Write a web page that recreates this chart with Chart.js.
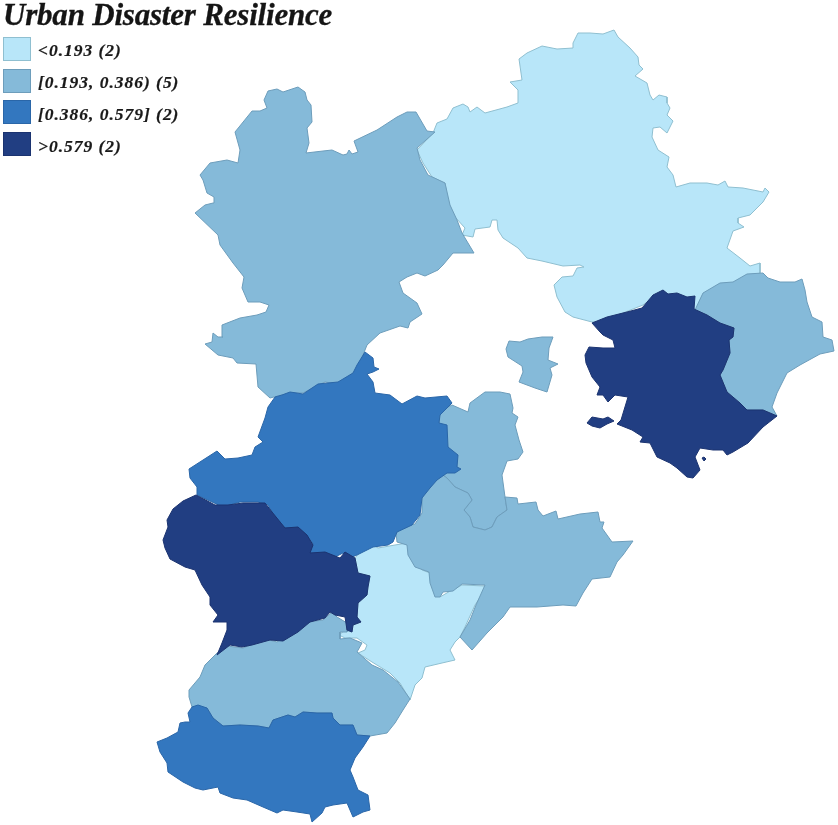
<!DOCTYPE html>
<html>
<head>
<meta charset="utf-8">
<script src="https://cdn.jsdelivr.net/npm/chart.js@4"></script>
<style>
  html, body { margin: 0; background: #fff; }
  #wrap { position: relative; width: 838px; height: 825px; overflow: hidden; }
  #title { position: absolute; left: 3px; top: -1px; font: italic bold 31px/32px "Liberation Serif", serif; letter-spacing: -0.2px; -webkit-text-stroke: 0.3px #151515; color: #151515; white-space: nowrap; }
  #legend { position: absolute; left: 3px; top: 37px; }
  .row { position: absolute; left: 0; height: 24px; white-space: nowrap; font: italic bold 17.5px/24px "Liberation Serif", serif; letter-spacing: 0.97px; -webkit-text-stroke: 0.2px #1a1a1a; color: #1a1a1a; }
  .box { position: absolute; left: 0; top: 0; width: 26px; height: 22px; border: 1px solid #6f9fb5; }
  .row span { position: absolute; left: 35px; top: 1px; }
  .row:nth-child(n+3) span { top: 2px; }
</style>
</head>
<body>
<div id="wrap">
  <canvas id="map" width="838" height="825"></canvas>
  <div id="title"></div>
  <div id="legend"></div>
</div>
<script>
// ── DATA ─────────────────────────────────────────────────────────────
const chartTitle = "Urban Disaster Resilience"
const classLabels = ["<0.193 (2)", "[0.193, 0.386) (5)", "[0.386, 0.579] (2)", ">0.579 (2)"]
const classColors = ["#b8e6f9", "#85bad9", "#3377bf", "#213e82"]
const classBorders = ["#8fbfd0", "#6d9dbb", "#2a66a8", "#1b3370"]

// region outlines in map units
const chengde = [[573,43],[578,33],[590,33],[603,34],[614,30],[618,37],[630,48],[638,57],[639,65],[643,69],[635,76],[647,83],[650,95],[653,100],[659,95],[667,97],[667,103],[670,108],[667,115],[673,121],[667,133],[660,127],[653,128],[652,137],[658,150],[669,157],[667,167],[673,175],[676,187],[690,183],[707,183],[718,185],[725,181],[728,187],[743,188],[763,192],[765,188],[769,192],[763,202],[750,215],[738,218],[738,223],[744,227],[733,231],[727,248],[740,258],[750,266],[760,263],[760,273],[743,280],[720,287],[703,295],[696,310],[677,297],[660,292],[643,305],[623,313],[600,322],[592,322],[573,317],[565,312],[557,297],[554,285],[562,277],[573,276],[577,268],[584,267],[580,265],[563,266],[542,261],[527,258],[518,248],[503,238],[498,230],[497,220],[492,220],[490,227],[475,229],[473,237],[462,235],[465,228],[455,217],[448,202],[445,183],[432,177],[423,163],[417,150],[433,133],[437,123],[447,119],[453,108],[463,104],[468,107],[470,112],[477,107],[485,113],[507,107],[518,103],[518,90],[510,82],[522,80],[519,59],[527,53],[542,46],[557,49],[573,48]]
const xingtaiEast = [[355,558],[362,550],[373,545],[378,548],[395,545],[407,543],[410,558],[422,570],[430,573],[432,588],[440,597],[452,590],[462,585],[485,586],[483,593],[475,605],[465,627],[460,637],[455,642],[450,650],[455,660],[442,663],[425,667],[422,678],[415,685],[410,700],[400,683],[390,673],[372,662],[358,653],[365,650],[367,645],[357,638],[345,638],[339,635],[345,630],[352,632],[353,625],[361,622],[357,617],[358,603],[367,595],[368,587],[370,576],[358,573]]
const zhangjiakou = [[264,100],[268,91],[277,89],[283,92],[298,87],[305,92],[307,100],[311,105],[312,122],[307,128],[309,143],[306,153],[323,151],[332,150],[343,155],[347,154],[349,150],[352,154],[358,152],[354,141],[377,130],[397,117],[407,112],[416,112],[427,131],[435,132],[417,148],[420,160],[428,175],[445,183],[450,205],[457,220],[462,233],[474,253],[467,253],[453,253],[443,265],[438,270],[425,276],[417,273],[407,277],[399,282],[403,293],[417,303],[422,314],[410,322],[408,328],[400,326],[380,333],[367,345],[363,355],[357,372],[337,384],[325,382],[303,393],[290,393],[270,398],[258,387],[256,364],[237,363],[233,358],[218,355],[205,344],[212,342],[213,333],[218,337],[223,337],[222,325],[240,318],[257,315],[266,312],[269,305],[260,302],[248,302],[242,288],[244,277],[233,263],[220,245],[218,235],[195,213],[205,205],[213,203],[214,197],[207,193],[203,180],[200,175],[210,163],[227,160],[238,163],[240,150],[235,132],[252,111],[260,111],[267,108]]
const qinhuangdao = [[695,310],[703,293],[720,283],[733,282],[747,274],[763,273],[768,278],[780,282],[795,282],[802,279],[805,290],[807,302],[812,317],[822,322],[823,337],[832,340],[834,351],[820,354],[800,365],[787,373],[777,393],[772,407],[777,416],[763,410],[747,410],[740,403],[727,392],[720,375],[723,370],[730,353],[729,340],[733,337],[734,328],[720,323],[707,315]]
const langfangNorth = [[506,349],[509,341],[520,342],[528,339],[542,337],[553,337],[549,348],[548,360],[558,364],[550,368],[552,375],[547,392],[535,388],[527,385],[519,382],[523,372],[522,366],[508,357]]
const langfangSouth = [[439,418],[442,410],[452,405],[468,412],[470,403],[485,392],[500,392],[510,394],[513,408],[512,413],[518,417],[515,425],[519,440],[523,452],[518,459],[507,461],[502,475],[505,497],[507,510],[497,517],[492,527],[485,530],[473,527],[470,517],[464,510],[472,500],[468,493],[455,487],[447,478],[435,470],[430,450]]
const cangzhou = [[396,533],[403,527],[415,524],[422,513],[422,498],[432,480],[440,473],[447,478],[455,487],[468,493],[472,500],[464,510],[470,517],[473,527],[485,530],[492,527],[497,517],[507,510],[505,497],[517,498],[518,504],[536,502],[538,510],[543,516],[556,511],[558,519],[580,514],[598,512],[600,522],[604,522],[602,528],[612,542],[633,541],[623,555],[617,562],[610,577],[592,579],[583,593],[576,606],[563,605],[537,607],[510,607],[503,617],[487,633],[472,650],[460,637],[470,620],[476,605],[485,585],[462,584],[453,591],[443,592],[440,597],[435,597],[430,583],[429,572],[415,567],[408,555],[407,545],[397,542]]
const xingtaiWest = [[189,697],[189,690],[200,677],[205,665],[217,653],[227,646],[243,648],[265,639],[277,642],[290,633],[300,627],[308,622],[323,620],[332,612],[337,617],[347,623],[347,632],[340,632],[340,639],[350,638],[362,643],[357,652],[372,665],[383,670],[398,682],[410,699],[403,710],[395,723],[387,733],[370,736],[357,735],[353,725],[340,725],[333,718],[332,713],[317,713],[303,712],[295,717],[288,715],[273,720],[269,728],[258,726],[240,725],[223,726],[213,718],[207,708],[192,707]]
const baoding = [[357,365],[365,352],[373,358],[374,367],[379,369],[373,372],[367,374],[373,382],[375,393],[390,395],[402,404],[417,396],[425,398],[447,396],[452,403],[440,415],[439,423],[447,425],[448,447],[458,455],[457,467],[461,469],[455,473],[447,473],[437,480],[430,488],[422,498],[420,515],[412,525],[397,532],[393,542],[388,545],[373,547],[357,555],[350,558],[343,553],[335,557],[327,555],[308,553],[313,543],[303,535],[295,528],[285,528],[275,517],[268,505],[258,502],[240,502],[223,507],[212,502],[197,495],[197,487],[190,478],[189,469],[203,460],[217,451],[225,459],[238,458],[252,455],[255,447],[263,442],[258,437],[265,418],[268,407],[275,397],[282,395],[290,392],[303,394],[318,384],[338,382],[353,373]]
const handan = [[192,707],[198,705],[207,708],[213,718],[223,726],[240,725],[258,726],[269,728],[273,720],[288,715],[295,717],[303,712],[317,713],[332,713],[333,718],[340,725],[353,725],[357,735],[370,736],[363,747],[355,758],[350,770],[353,777],[358,790],[368,795],[370,810],[363,812],[353,817],[347,803],[333,805],[325,807],[322,813],[312,822],[310,814],[297,812],[283,810],[277,813],[263,807],[247,800],[233,798],[220,793],[218,787],[203,790],[195,788],[183,782],[168,772],[167,763],[160,752],[157,742],[167,738],[178,732],[180,723],[185,722],[190,722],[188,713]]
const shijiazhuang = [[163,540],[168,527],[167,520],[173,509],[183,501],[196,495],[215,505],[228,505],[243,503],[265,503],[272,512],[285,528],[298,527],[307,535],[313,545],[310,553],[325,552],[340,558],[345,552],[355,558],[358,573],[370,576],[368,587],[367,595],[358,603],[357,617],[361,622],[353,625],[352,632],[347,630],[345,617],[335,615],[330,612],[325,618],[310,622],[298,632],[283,641],[270,640],[252,645],[242,647],[230,645],[217,655],[222,643],[227,630],[227,622],[213,622],[218,615],[210,605],[210,597],[202,585],[195,570],[185,567],[170,559],[165,548]]
const tangshan = [[592,323],[607,317],[627,312],[642,308],[653,295],[663,290],[668,294],[677,293],[687,297],[695,296],[694,309],[707,315],[720,323],[734,328],[733,337],[729,340],[730,353],[723,370],[720,375],[727,392],[740,403],[747,410],[763,410],[777,416],[763,427],[748,443],[733,452],[727,455],[723,450],[713,450],[700,448],[695,457],[700,470],[693,478],[687,477],[677,468],[670,463],[657,457],[650,443],[640,442],[643,437],[632,430],[617,424],[621,420],[628,397],[615,395],[608,402],[603,395],[597,395],[600,387],[592,377],[586,363],[585,355],[589,347],[603,348],[615,348],[613,340],[603,335],[600,332]]
const tangshanIsle = [[587,423],[592,417],[603,419],[608,417],[614,421],[607,424],[600,428],[592,426]]
const tangshanDot = [[702,458],[704,457],[706,459],[704,461]]

// painted in this order, index into classColors next to each
const regions = [
  [chengde, 0], [xingtaiEast, 0],
  [zhangjiakou, 1], [qinhuangdao, 1], [langfangNorth, 1], [langfangSouth, 1], [cangzhou, 1], [xingtaiWest, 1],
  [baoding, 2], [handan, 2],
  [shijiazhuang, 3], [tangshan, 3], [tangshanIsle, 3], [tangshanDot, 3]
]

// ── TITLE + LEGEND ───────────────────────────────────────────────────
document.getElementById("title").textContent = chartTitle
const legendEl = document.getElementById("legend")
classLabels.forEach((label, i) => {
  const row = document.createElement("div")
  row.className = "row"
  row.style.top = Math.round(i * 31.7) + "px"
  const box = document.createElement("div")
  box.className = "box"
  box.style.background = classColors[i]
  box.style.borderColor = classBorders[i]
  const text = document.createElement("span")
  text.textContent = label
  row.append(box, text)
  legendEl.append(row)
})

// ── MAP ──────────────────────────────────────────────────────────────
const datasets = regions.map(([outline, cls], i) => ({
  data: outline.concat([outline[0]]).map(p => ({ x: p[0], y: p[1] })),
  showLine: true,
  fill: "shape",
  tension: 0,
  pointRadius: 0,
  borderWidth: 1,
  borderColor: classBorders[cls],
  backgroundColor: classColors[cls],
  clip: false,
  order: regions.length - i
}))

new Chart(document.getElementById("map"), {
  type: "scatter",
  data: { datasets },
  options: {
    responsive: false,
    animation: false,
    devicePixelRatio: 1,
    layout: { padding: 0 },
    plugins: { legend: { display: false }, tooltip: { enabled: false } },
    scales: {
      x: { type: "linear", display: false, min: 0, max: 838 },
      y: { type: "linear", display: false, min: 0, max: 825, reverse: true }
    }
  }
})
</script>
</body>
</html>
